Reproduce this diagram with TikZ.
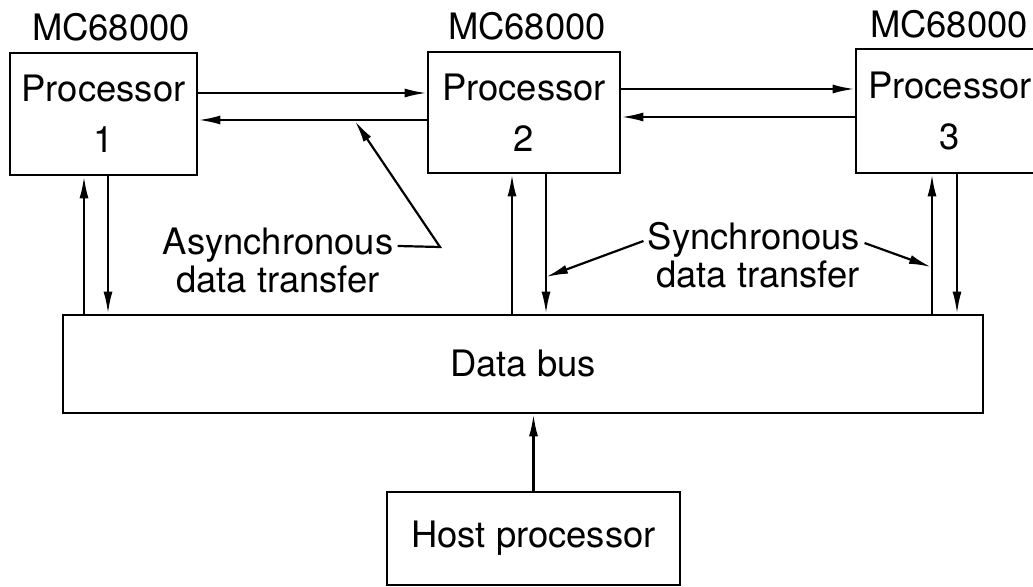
\documentclass[tikz,border=0pt]{standalone}
\usepackage{fontspec}
\setmainfont{TeX Gyre Heros}
\usetikzlibrary{arrows.meta}
\tikzstyle{procbox} = [draw, line width=1.4pt, inner sep=0pt, align=center]
\tikzstyle{lbl} = [inner sep=0pt, anchor=base]
\tikzstyle{link} = [line width=1.1pt, -{Latex[length=11pt,width=4.5pt]}]

\begin{document}
\begin{tikzpicture}[x=0.5pt, y=-0.5pt, every node/.style={font=\fontsize{18.2}{25.5}\selectfont}]
\useasboundingbox (0,0) rectangle (1033,587);
\clip (0,0) rectangle (1033,587);

% processors
\node[procbox, minimum width=93.5pt, minimum height=61pt] (p1) at (103.5,114) {Processor\\1};
\node[procbox, minimum width=96pt, minimum height=60.5pt] (p2) at (524,112.5) {Processor\\2};
\node[procbox, minimum width=94pt, minimum height=62pt] (p3) at (950,111) {Processor\\3};

\node[lbl] (m1) at (111,41) {MC68000};
\node[lbl] (m2) at (527,40) {MC68000};
\node[lbl] (m3) at (949,38) {MC68000};

% bus and host
\node[procbox, minimum width=460pt, minimum height=49pt] (bus) at (523,364) {Data bus};
\node[procbox, minimum width=146.5pt, minimum height=46.5pt] (host) at (533.5,538.5) {Host processor};

\draw[link] (host.north) -- (host.north |- bus.south);

% asynchronous links
\draw[link] (p1.east |- 0,93) -- (p2.west |- 0,93);
\draw[link] (p2.west |- 0,120) -- (p1.east |- 0,120);
\draw[link] (p2.east |- 0,89) -- (p3.west |- 0,89);
\draw[link] (p3.west |- 0,117) -- (p2.east |- 0,117);

% synchronous links
\draw[link] (bus.north -| 84,0) -- (p1.south -| 84,0);
\draw[link] (p1.south -| 108,0) -- (bus.north -| 108,0);
\draw[link] (bus.north -| 512,0) -- (p2.south -| 512,0);
\draw[link] (p2.south -| 546,0) -- (bus.north -| 546,0);
\draw[link] (bus.north -| 932,0) -- (p3.south -| 932,0);
\draw[link] (p3.south -| 957,0) -- (bus.north -| 957,0);

% labels
\node[lbl] (asyn1) at (278,255) {Asynchronous};
\node[lbl] (asyn2) at (278,293) {data transfer};
\node[lbl] (syn1) at (754,250) {Synchronous};
\node[lbl] (syn2) at (758,288) {data transfer};

\coordinate (abend) at (440,247);
\coordinate (atip) at (355,121);
\coordinate (stip1) at (546,277);
\coordinate (stip2) at (931,267);

\draw[link] ([xshift=2pt]asyn1.east |- 0,246) -- (abend) -- (atip);
\draw[link] ([xshift=-2pt]syn1.west |- 0,241) -- (stip1);
\draw[link] ([xshift=2pt]syn1.east |- 0,243) -- (stip2);

\end{tikzpicture}
\end{document}
